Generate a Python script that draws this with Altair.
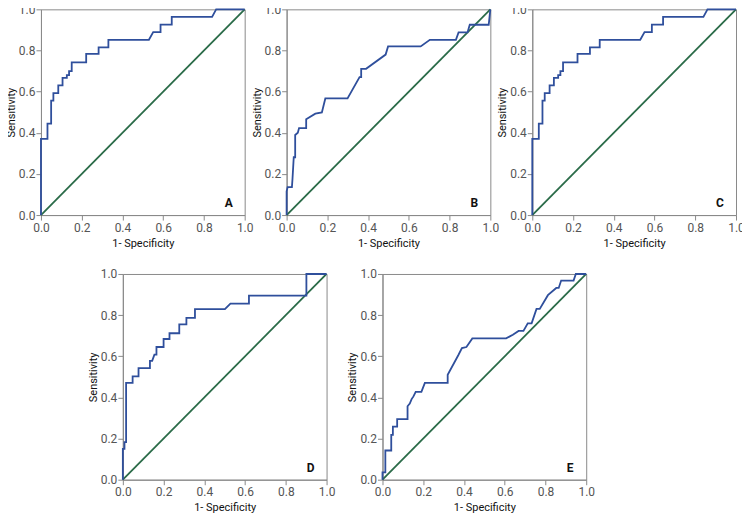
import altair as alt
import pandas as pd

# ROC curve points (1 - specificity, sensitivity)
A_FPR = [0, 0, 0.032, 0.032, 0.05, 0.05, 0.061, 0.061, 0.085, 0.085, 0.106, 0.106, 0.127, 0.127,
         0.138, 0.138, 0.151, 0.151, 0.222, 0.222, 0.283, 0.283, 0.331, 0.331, 0.53, 0.551, 0.587,
         0.587, 0.642, 0.642, 0.84, 0.86, 1.0]
A_TPR = [0, 0.37, 0.37, 0.444, 0.444, 0.556, 0.556, 0.593, 0.593, 0.63, 0.63, 0.667, 0.667, 0.68,
         0.68, 0.70, 0.70, 0.742, 0.742, 0.784, 0.784, 0.815, 0.815, 0.852, 0.852, 0.889, 0.889,
         0.926, 0.926, 0.963, 0.963, 1.0, 1.0]

B_FPR = [0, 0, 0.005, 0.026, 0.029, 0.035, 0.042, 0.042, 0.055, 0.061, 0.096, 0.096, 0.141, 0.173,
         0.19, 0.299, 0.358, 0.366, 0.366, 0.39, 0.486, 0.498, 0.658, 0.703, 0.831, 0.844, 0.888,
         0.899, 0.992, 1.0]
B_TPR = [0, 0.115, 0.136, 0.136, 0.178, 0.281, 0.281, 0.389, 0.40, 0.423, 0.423, 0.466, 0.493,
         0.499, 0.567, 0.567, 0.671, 0.671, 0.711, 0.711, 0.78, 0.82, 0.82, 0.852, 0.852, 0.888,
         0.888, 0.925, 0.925, 1.0]

C_FPR = [0, 0, 0.032, 0.032, 0.05, 0.05, 0.061, 0.061, 0.085, 0.085, 0.106, 0.106, 0.127, 0.127,
         0.138, 0.138, 0.151, 0.151, 0.222, 0.222, 0.283, 0.283, 0.331, 0.331, 0.53, 0.551, 0.587,
         0.587, 0.642, 0.642, 0.84, 0.86, 1.0]
C_TPR = [0, 0.37, 0.37, 0.444, 0.444, 0.556, 0.556, 0.593, 0.593, 0.63, 0.63, 0.667, 0.667, 0.68,
         0.68, 0.70, 0.70, 0.742, 0.742, 0.784, 0.784, 0.815, 0.815, 0.852, 0.852, 0.889, 0.889,
         0.926, 0.926, 0.963, 0.963, 1.0, 1.0]

D_FPR = [0, 0, 0.008, 0.008, 0.016, 0.016, 0.048, 0.048, 0.077, 0.077, 0.133, 0.133, 0.144, 0.155,
         0.165, 0.165, 0.2, 0.2, 0.229, 0.229, 0.277, 0.277, 0.312, 0.312, 0.354, 0.354, 0.501,
         0.528, 0.619, 0.619, 0.901, 0.901, 1.0]
D_TPR = [0, 0.15, 0.15, 0.183, 0.183, 0.471, 0.471, 0.502, 0.502, 0.542, 0.542, 0.578, 0.578,
         0.608, 0.608, 0.645, 0.645, 0.684, 0.684, 0.712, 0.712, 0.755, 0.755, 0.787, 0.787, 0.829,
         0.829, 0.856, 0.856, 0.895, 0.895, 1.0, 1.0]

E_FPR = [0, 0, 0.014, 0.014, 0.043, 0.043, 0.051, 0.051, 0.072, 0.072, 0.123, 0.123, 0.134, 0.143,
         0.152, 0.163, 0.191, 0.208, 0.32, 0.32, 0.372, 0.39, 0.412, 0.441, 0.607, 0.64, 0.668,
         0.692, 0.713, 0.732, 0.756, 0.772, 0.812, 0.853, 0.865, 0.877, 0.938, 0.949, 1.0]
E_TPR = [0, 0.036, 0.036, 0.142, 0.142, 0.218, 0.218, 0.258, 0.258, 0.294, 0.294, 0.357, 0.37,
         0.392, 0.405, 0.427, 0.427, 0.471, 0.471, 0.51, 0.605, 0.64, 0.645, 0.687, 0.687, 0.705,
         0.723, 0.723, 0.76, 0.76, 0.83, 0.83, 0.897, 0.932, 0.932, 0.968, 0.968, 1.0, 1.0]

DIAG = [0.0, 1.0]
TICKS = [0.0, 0.2, 0.4, 0.6, 0.8, 1.0]

CURVES = {"A": (A_FPR, A_TPR), "B": (B_FPR, B_TPR), "C": (C_FPR, C_TPR),
          "D": (D_FPR, D_TPR), "E": (E_FPR, E_TPR)}

FONT = "Roboto, Liberation Sans, sans-serif"
BLUE = "#2f4f9c"
GREEN = "#2a6b48"
FRAME = "#8a8a8a"
W, H = 204, 206


def panel(name):
    fpr, tpr = CURVES[name]
    df = pd.DataFrame({"fpr": fpr, "tpr": tpr, "i": list(range(len(fpr)))})
    diag = pd.DataFrame({"fpr": DIAG, "tpr": DIAG})
    lab = pd.DataFrame({"label": [name]})
    xs = alt.Scale(domain=[0, 1], nice=False)
    ys = alt.Scale(domain=[0, 1], nice=False)
    xax = alt.Axis(values=TICKS, format=".1f", title="1- Specificity", labelFlush=False,
                   labelPadding=2, titlePadding=4)
    yax = alt.Axis(values=TICKS, format=".1f", title="Sensitivity", labelFlush=False,
                   labelPadding=1, titlePadding=2)
    d = alt.Chart(diag).mark_line(color=GREEN, strokeWidth=1.8).encode(
        x=alt.X("fpr:Q", scale=xs, axis=xax),
        y=alt.Y("tpr:Q", scale=ys, axis=yax),
    )
    c = alt.Chart(df).mark_line(color=BLUE, strokeWidth=1.8, interpolate="linear").encode(
        x=alt.X("fpr:Q", scale=xs, axis=xax),
        y=alt.Y("tpr:Q", scale=ys, axis=yax),
        order="i:O",
    )
    t = alt.Chart(lab).mark_text(fontWeight="bold", fontSize=12, font="Roboto",
                                 color="#111").encode(
        x=alt.value(W - 16), y=alt.value(H - 12), text="label:N"
    )
    return alt.layer(d, c, t).properties(
        width=W, height=H, view=alt.ViewBackground(stroke=FRAME, strokeWidth=1)
    )


spacer = alt.Chart(pd.DataFrame({"s": [0]})).mark_point(opacity=0, size=1).encode(
    x=alt.value(0), y=alt.value(0)
).properties(width=26, height=H, view=alt.ViewBackground(strokeOpacity=0))

top = alt.hconcat(panel("A"), panel("B"), panel("C"), spacing=42, bounds="flush")
bottom = alt.hconcat(spacer, panel("D"), panel("E"), spacing=56, bounds="flush")

chart = alt.vconcat(top, bottom, spacing=18).properties(
    padding={"left": -4, "top": -6, "right": -3, "bottom": 0}
).configure_axis(
    grid=False,
    domainColor=FRAME,
    tickColor=FRAME,
    tickSize=5,
    labelColor="#555555",
    labelFont=FONT,
    labelFontSize=12,
    titleFont=FONT,
    titleFontSize=11,
    titleFontWeight="normal",
    titleColor="#111111",
).configure_view(stroke=FRAME)

chart.save("out.html", embed_options={"renderer": "svg", "actions": False})
